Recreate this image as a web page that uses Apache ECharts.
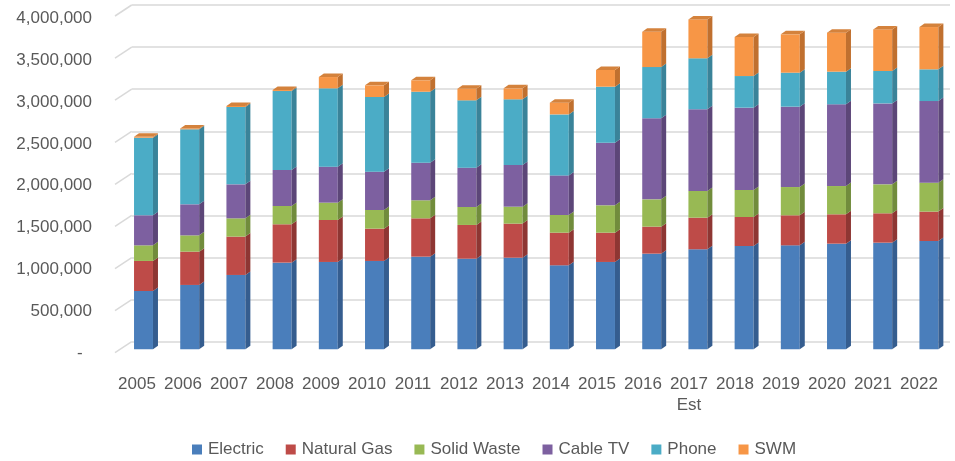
<!DOCTYPE html>
<html>
<head>
<meta charset="utf-8">
<script src="https://cdn.jsdelivr.net/npm/echarts@6/dist/echarts.min.js"></script>
<style>
  html, body { margin: 0; padding: 0; background: #ffffff; }
  #chart { width: 955px; height: 461px; }
</style>
</head>
<body>
<div id="chart"></div>
<script>
// Annual utility totals by service, 2005–2022
const years = ['2005', '2006', '2007', '2008', '2009', '2010', '2011', '2012', '2013',
  '2014', '2015', '2016', '2017\nEst', '2018', '2019', '2020', '2021', '2022'];

const electric    = [695000, 767000, 886000, 1033000, 1041000, 1053000, 1104000, 1080000, 1092000,
  1001000, 1041000, 1140000, 1192000, 1231000, 1239000, 1259000, 1271000, 1291000];
const naturalGas  = [358000, 397000, 457000, 457000, 500000, 385000, 457000, 402000, 406000,
  389000, 349000, 322000, 377000, 346000, 358000, 350000, 350000, 350000];
const solidWaste  = [186000, 194000, 218000, 218000, 207000, 222000, 215000, 214000, 202000,
  211000, 326000, 325000, 318000, 322000, 337000, 337000, 345000, 345000];
const cableTV     = [358000, 370000, 405000, 429000, 429000, 457000, 448000, 469000, 497000,
  472000, 747000, 966000, 973000, 981000, 958000, 974000, 965000, 973000];
const phone       = [925000, 894000, 922000, 941000, 933000, 890000, 846000, 802000, 782000,
  727000, 667000, 611000, 608000, 377000, 405000, 389000, 386000, 378000];
const swm         = [10000, 10000, 12000, 12000, 135000, 139000, 136000, 139000, 131000,
  139000, 199000, 421000, 464000, 465000, 457000, 465000, 496000, 504000];

const yTicks = [0, 500000, 1000000, 1500000, 2000000, 2500000, 3000000, 3500000, 4000000];

const seriesNames = ['Electric', 'Natural Gas', 'Solid Waste', 'Cable TV', 'Phone', 'SWM'];
const seriesValues = [electric, naturalGas, solidWaste, cableTV, phone, swm];
const frontColors = ['#4a7ebb', '#be4b48', '#98b954', '#7d60a0', '#4bacc6', '#f79646'];
const sideColors  = ['#355d8f', '#8e3633', '#718c3c', '#5c4678', '#3a8399', '#c0702f'];
const topColors   = ['#5b8fcc', '#cf5c59', '#a8c865', '#8e71b1', '#5dbdd6', '#d4823c'];

const FONT = '"Liberation Sans", Arial, sans-serif';
const TEXT_COLOR = '#595959';
const DEPTH_X = 5;     // bar side-face offset
const DEPTH_Y = 3.5;
const WALL_X = 16.7;   // floor depth between front labels and back wall
const WALL_Y = 11;

// stacked bases/tops for each service
const stackRows = [];
{
  const base = years.map(() => 0);
  seriesValues.forEach((vals) => {
    stackRows.push(vals.map((v, i) => {
      const row = [i, base[i], base[i] + v, v];
      base[i] += v;
      return row;
    }));
  });
}

function makeBarRenderer(sIdx) {
  const isTop = sIdx === seriesValues.length - 1;
  return function (params, api) {
    const cat = api.value(0);
    const lo = api.coord([cat, api.value(1)]);
    const hi = api.coord([cat, api.value(2)]);
    const band = api.size([1, 0])[0];
    const w = band * 0.41;
    const x0 = lo[0] - w / 2;
    const x1 = x0 + w;
    const yb = lo[1];
    const yt = hi[1];
    const children = [
      {
        type: 'rect',
        shape: { x: x0, y: yt, width: w, height: yb - yt },
        style: { fill: frontColors[sIdx] }
      },
      {
        type: 'polygon',
        shape: { points: [[x1, yt], [x1 + DEPTH_X, yt - DEPTH_Y], [x1 + DEPTH_X, yb - DEPTH_Y], [x1, yb]] },
        style: { fill: sideColors[sIdx] }
      }
    ];
    if (isTop) {
      children.push({
        type: 'polygon',
        shape: { points: [[x0, yt], [x1, yt], [x1 + DEPTH_X, yt - DEPTH_Y], [x0 + DEPTH_X, yt - DEPTH_Y]] },
        style: { fill: topColors[sIdx] }
      });
    }
    return { type: 'group', children: children };
  };
}

// slanted connectors from the front value labels to the back-wall gridlines
function renderWallConnector(params, api) {
  const p = api.coord([0, api.value(0)]);
  const xb = params.coordSys.x;
  return {
    type: 'line',
    shape: { x1: xb - WALL_X, y1: p[1] + WALL_Y, x2: xb, y2: p[1] },
    style: { stroke: '#d9d9d9', lineWidth: 1.5 }
  };
}

const chart = echarts.init(document.getElementById('chart'), null, { renderer: 'canvas' });

const option = {
  animation: false,
  color: frontColors,
  textStyle: { fontFamily: FONT },
  grid: [
    { left: 114, right: 13, top: 18.3, bottom: 108 },   // front plane: axis labels
    { left: 131.7, right: 5, top: 5, bottom: 119.3 },   // back wall: gridlines
    { left: 120.4, right: 3, top: 13.7, bottom: 111.7 } // bars
  ],
  xAxis: [
    {
      type: 'category', gridIndex: 0, data: years,
      axisLine: { show: false }, axisTick: { show: false },
      axisLabel: { color: TEXT_COLOR, fontSize: 17, fontFamily: FONT, margin: 21, lineHeight: 21, interval: 0 }
    },
    { type: 'category', gridIndex: 1, data: years, show: false },
    { type: 'category', gridIndex: 2, data: years, show: false }
  ],
  yAxis: [
    {
      type: 'value', gridIndex: 0, min: 0, max: 4000000, interval: 500000,
      axisLine: { show: false }, axisTick: { show: false }, splitLine: { show: false },
      axisLabel: {
        color: TEXT_COLOR, fontSize: 17, fontFamily: FONT, margin: 22,
        formatter: v => v === 0 ? '-  ' : v.toLocaleString('en-US')
      }
    },
    {
      type: 'value', gridIndex: 1, min: 0, max: 4000000, interval: 500000,
      axisLine: { show: false }, axisTick: { show: false }, axisLabel: { show: false },
      splitLine: { show: true, lineStyle: { color: '#d9d9d9', width: 1.5 } }
    },
    { type: 'value', gridIndex: 2, min: 0, max: 4000000, show: false }
  ],
  legend: {
    data: seriesNames,
    left: 192,
    top: 441,
    padding: 0,
    icon: 'rect',
    itemWidth: 10,
    itemHeight: 10,
    itemGap: 22,
    textStyle: { color: TEXT_COLOR, fontSize: 17, fontFamily: FONT, padding: [0, 0, 0, 1] }
  },
  series: [
    {
      type: 'custom', name: '_wall', xAxisIndex: 1, yAxisIndex: 1,
      data: yTicks.map(v => [v]), renderItem: renderWallConnector,
      silent: true, z: 1, encode: { y: 0 }
    }
  ].concat(seriesNames.map((name, s) => ({
    type: 'custom',
    name: name,
    xAxisIndex: 2,
    yAxisIndex: 2,
    data: stackRows[s],
    encode: { x: 0, y: [1, 2] },
    itemStyle: { color: frontColors[s] },
    renderItem: makeBarRenderer(s),
    z: 2 + s
  })))
};

chart.setOption(option);
</script>
</body>
</html>
